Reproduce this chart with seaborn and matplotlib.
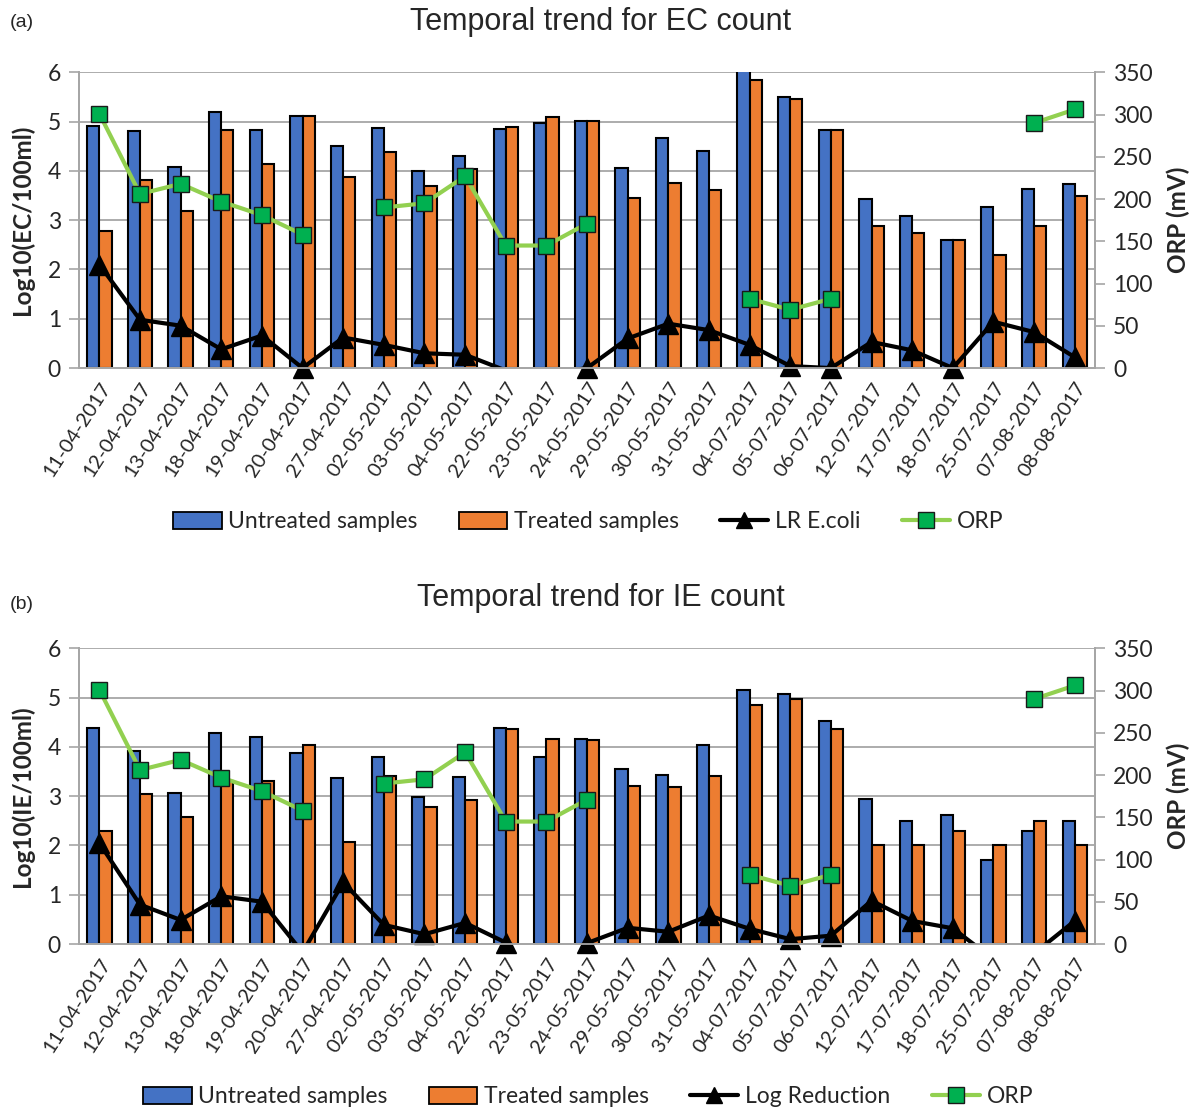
import numpy as np
import pandas as pd
import matplotlib
matplotlib.use('Agg')
import matplotlib.pyplot as plt
import seaborn as sns
from matplotlib.patches import Patch
from matplotlib.lines import Line2D

# sampling dates
dates = ['11-04-2017', '12-04-2017', '13-04-2017', '18-04-2017', '19-04-2017',
         '20-04-2017', '27-04-2017', '02-05-2017', '03-05-2017', '04-05-2017',
         '22-05-2017', '23-05-2017', '24-05-2017', '29-05-2017', '30-05-2017',
         '31-05-2017', '04-07-2017', '05-07-2017', '06-07-2017', '12-07-2017',
         '17-07-2017', '18-07-2017', '25-07-2017', '07-08-2017', '08-08-2017']

# panel (a) E. coli
ec_untreated = [4.92, 4.80, 4.08, 5.20, 4.82, 5.11, 4.51, 4.87, 3.99, 4.30,
                4.84, 4.97, 5.02, 4.06, 4.67, 4.40, 6.30, 5.49, 4.82, 3.43,
                3.09, 2.60, 3.26, 3.63, 3.74]
ec_treated = [2.79, 3.81, 3.19, 4.82, 4.14, 5.11, 3.87, 4.38, 3.69, 4.03,
              4.89, 5.09, 5.02, 3.45, 3.76, 3.61, 5.84, 5.45, 4.82, 2.88,
              2.73, 2.60, 2.30, 2.88, 3.50]
ec_lr = [2.10, 0.98, 0.86, 0.38, 0.66, 0.0, 0.62, 0.47, 0.30, 0.27,
         -0.05, -0.12, 0.0, 0.60, 0.90, 0.77, 0.47, 0.04, 0.0, 0.53,
         0.36, 0.0, 0.94, 0.73, 0.22]

# panel (b) intestinal enterococci
ie_untreated = [4.39, 3.91, 3.06, 4.29, 4.20, 3.87, 3.36, 3.79, 2.99, 3.38,
                4.39, 3.79, 4.16, 3.55, 3.42, 4.03, 5.16, 5.08, 4.53, 2.94,
                2.50, 2.62, 1.70, 2.30, 2.50]
ie_treated = [2.30, 3.04, 2.57, 3.30, 3.31, 4.04, 2.08, 3.40, 2.79, 2.93,
              4.36, 4.16, 4.14, 3.20, 3.18, 3.41, 4.84, 4.97, 4.36, 2.01,
              2.01, 2.30, 2.01, 2.49, 2.01]
ie_lr = [2.05, 0.80, 0.49, 0.97, 0.86, -0.17, 1.25, 0.39, 0.20, 0.43,
         0.03, -0.37, 0.02, 0.33, 0.25, 0.58, 0.31, 0.10, 0.17, 0.88,
         0.47, 0.32, -0.31, -0.19, 0.47]

# ORP (mV), nan = not measured
orp = [301, 206, 218, 197, 181, 158, np.nan, 190, 195, 227,
       145, 145, 171, np.nan, np.nan, np.nan, 82, 69, 82, np.nan,
       np.nan, np.nan, np.nan, 290, 306]

BLUE = '#4472C4'
ORANGE = '#ED7D31'
LGREEN = '#92D050'
DGREEN = '#00B050'
GREY = '#A6A6A6'

sns.set_theme(style='white')
plt.rcParams['font.family'] = ['Lato', 'DejaVu Sans']


def panel(ax, untreated, treated, lr, ylabel):
    n = len(dates)
    df = pd.DataFrame({'date': dates * 2,
                       'value': untreated + treated,
                       'group': ['Untreated samples'] * n + ['Treated samples'] * n})
    sns.barplot(data=df, x='date', y='value', hue='group', order=dates,
                palette=[BLUE, ORANGE], saturation=1, width=0.6,
                edgecolor='black', linewidth=1.5, legend=False, ax=ax)
    ax.set_ylim(0, 6)
    ax.set_xlim(-0.5, n - 0.5)
    ax.set_yticks(range(7))
    ax.set_axisbelow(True)
    ax.yaxis.grid(True, color=GREY, lw=1.3)
    ax.xaxis.grid(False)
    x = np.arange(n)
    lr = np.array(lr)
    ax.plot(x, lr, color='black', lw=3, zorder=4)
    ok = lr >= 0
    ax.plot(x[ok], lr[ok], ls='none', marker='^', ms=14, color='black',
            clip_on=False, zorder=5)
    ax.set_xlabel('')
    ax.set_ylabel(ylabel, fontsize=17.5, fontweight='bold', labelpad=10)
    ax.set_xticks(x)
    ax.set_xticklabels(dates, rotation=57, ha='right', rotation_mode='anchor',
                       fontsize=14.5)
    ax.set_xticks(np.arange(-0.5, n, 1), minor=True)
    ax.tick_params(axis='x', which='major', length=0, pad=8)
    ax.tick_params(axis='x', which='minor', length=6, color=GREY, width=1.2)
    ax.tick_params(axis='y', length=7, color=GREY, width=1.2, labelsize=16.5, pad=6)
    for s in ['left', 'right', 'bottom']:
        ax.spines[s].set_color(GREY)
        ax.spines[s].set_linewidth(1.3)
    ax.spines['top'].set_visible(False)

    ax2 = ax.twinx()
    o = np.array(orp, dtype=float)
    ax2.plot(x, o, color=LGREEN, lw=3, marker='s', ms=12, mfc=DGREEN,
             mec='#1a1a1a', mew=1, zorder=5)
    ax2.set_ylim(0, 350)
    ax2.set_yticks(range(0, 351, 50))
    ax2.set_ylabel('ORP (mV)', fontsize=17.5, fontweight='bold', labelpad=10)
    ax2.tick_params(axis='y', length=7, color=GREY, width=1.2, labelsize=16.5, pad=6)
    ax2.grid(False)
    for s in ['left', 'right', 'bottom']:
        ax2.spines[s].set_color(GREY)
        ax2.spines[s].set_linewidth(1.3)
    ax2.spines['top'].set_visible(False)
    return ax2


def legend(fig, y, lr_label):
    handles = [Patch(facecolor=BLUE, edgecolor='black', lw=1.3),
               Patch(facecolor=ORANGE, edgecolor='black', lw=1.3),
               Line2D([], [], color='black', lw=3, marker='^', ms=12),
               Line2D([], [], color=LGREEN, lw=3, marker='s', ms=11,
                      mfc=DGREEN, mec='#1a1a1a', mew=1)]
    labels = ['Untreated samples', 'Treated samples', lr_label, 'ORP']
    fig.legend(handles, labels, loc='center', bbox_to_anchor=(0.49, y), ncol=4,
               frameon=False, fontsize=16.5, handlelength=2.1, handleheight=0.8,
               columnspacing=1.8, handletextpad=0.3)


fig = plt.figure(figsize=(12.01, 11.12), dpi=100)
ax_a = fig.add_axes([0.0658, 0.669, 0.846, 0.266])
ax_b = fig.add_axes([0.0658, 0.151, 0.846, 0.266])

panel(ax_a, ec_untreated, ec_treated, ec_lr, 'Log10(EC/100ml)')
panel(ax_b, ie_untreated, ie_treated, ie_lr, 'Log10(IE/100ml)')

fig.text(0.5, 0.980, 'Temporal trend for EC count', ha='center', va='center',
         fontsize=22, family='Liberation Sans')
fig.text(0.5, 0.462, 'Temporal trend for IE count', ha='center', va='center',
         fontsize=22, family='Liberation Sans')
fig.text(0.008, 0.980, '(a)', ha='left', va='center', fontsize=14,
         family='Liberation Sans')
fig.text(0.008, 0.456, '(b)', ha='left', va='center', fontsize=14,
         family='Liberation Sans')

legend(fig, 0.5306, 'LR E.coli')
legend(fig, 0.0135, 'Log Reduction')

fig.savefig('out.png', dpi=100)
